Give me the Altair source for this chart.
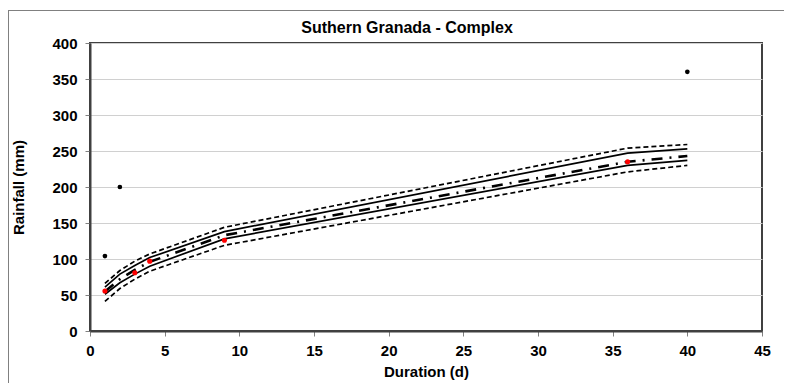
import altair as alt
import pandas as pd

# Curve durations (d)
durations = [1, 2, 3, 4, 9, 36, 40]
upper_dashed = [66, 84, 97, 107, 144, 254, 259]
upper_solid = [61, 79, 91, 102, 138, 247, 253]
center = [55, 72, 85, 96, 133, 235, 243]
lower_solid = [51, 67, 79, 90, 128, 230, 237]
lower_dashed = [41, 59, 72, 83, 119, 221, 230]

# Observed points
red_x = [1, 3, 4, 9, 36]
red_y = [55.5, 81, 97, 126, 235]
black_x = [1, 2, 40]
black_y = [104, 200, 360]

x_ticks = [0, 5, 10, 15, 20, 25, 30, 35, 40, 45]
y_ticks = [0, 50, 100, 150, 200, 250, 300, 350, 400]

title_text = "Suthern Granada - Complex"
x_title = "Duration (d)"
y_title = "Rainfall (mm)"

FONT = "Liberation Sans"

curves = pd.DataFrame({
    "d": durations,
    "ud": upper_dashed,
    "us": upper_solid,
    "c": center,
    "ls": lower_solid,
    "ld": lower_dashed,
})
reds = pd.DataFrame({"d": red_x, "r": red_y})
blacks = pd.DataFrame({"d": black_x, "r": black_y})

xscale = alt.Scale(domain=[0, 45], nice=False, zero=False)
yscale = alt.Scale(domain=[0, 400], nice=False)

xaxis = alt.Axis(values=x_ticks, title=x_title, grid=False, tickSize=5,
                 tickColor="#808080", domainColor="#404040", domainWidth=2,
                 labelFont=FONT, labelFontSize=15, labelFontWeight="bold",
                 labelColor="black", labelPadding=7, labelFlush=False,
                 titleFont=FONT, titleFontSize=15, titleFontWeight="bold",
                 titleColor="black", titlePadding=6)
yaxis = alt.Axis(values=y_ticks, title=y_title, grid=True, gridColor="#d0d0d0",
                 gridWidth=1.2, tickSize=5, tickColor="#808080",
                 domainColor="#404040", domainWidth=2,
                 labelFont=FONT, labelFontSize=15, labelFontWeight="bold",
                 labelColor="black", labelPadding=8, labelFlush=False,
                 titleFont=FONT, titleFontSize=15, titleFontWeight="bold",
                 titleColor="black", titlePadding=25)

base = alt.Chart(curves)

def line(col, dash, width):
    kw = dict(color="black", strokeWidth=width, clip=True)
    if dash:
        kw["strokeDash"] = dash
    return base.mark_line(**kw).encode(
        x=alt.X("d:Q", scale=xscale, axis=xaxis),
        y=alt.Y(f"{col}:Q", scale=yscale, axis=yaxis),
    )

l_ud = line("ud", [5, 3], 1.7)
l_us = line("us", None, 1.7)
l_c = line("c", [11, 7, 2, 7], 2.6)
l_ls = line("ls", None, 1.7)
l_ld = line("ld", [5, 3], 1.7)

p_red = alt.Chart(reds).mark_circle(color="#ff0000", size=26, opacity=1).encode(
    x=alt.X("d:Q", scale=xscale, axis=xaxis),
    y=alt.Y("r:Q", scale=yscale, axis=yaxis),
)
p_black = alt.Chart(blacks).mark_circle(color="black", size=22, opacity=1).encode(
    x=alt.X("d:Q", scale=xscale, axis=xaxis),
    y=alt.Y("r:Q", scale=yscale, axis=yaxis),
)

one = alt.Data(values=[{"k": 1}])
frame_top = alt.Chart(one).mark_rule(color="#808080", strokeWidth=1).encode(
    x=alt.value(-82), x2=alt.value(702), y=alt.value(-32.5))
frame_left = alt.Chart(one).mark_rule(color="#808080", strokeWidth=1).encode(
    x=alt.value(-81.5), y=alt.value(-33), y2=alt.value(345))
title = alt.Chart(one).mark_text(font=FONT, fontSize=16, fontWeight="bold",
                                 color="black", baseline="middle", align="center").encode(
    x=alt.value(317), y=alt.value(-15), text=alt.value(title_text))

chart = alt.layer(
    frame_top, frame_left, title,
    l_ud, l_us, l_c, l_ls, l_ld, p_black, p_red,
).properties(
    width=672, height=288,
    autosize=alt.AutoSizeParams(type="none"),
    padding={"left": 82, "top": 35, "right": 22, "bottom": 52},
    background="white",
).configure_view(stroke="#404040", strokeWidth=2)

chart.save("out.html", embed_options={"renderer": "svg", "actions": False})
